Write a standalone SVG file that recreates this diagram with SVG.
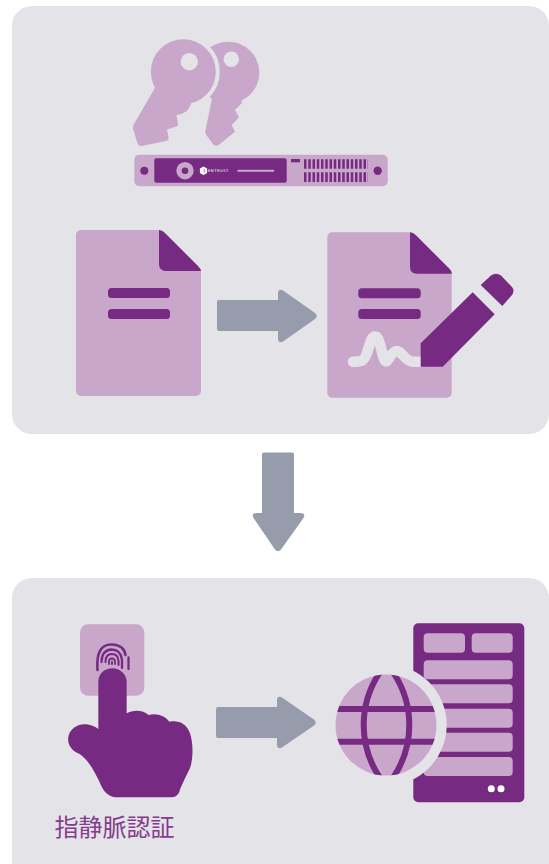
<svg xmlns="http://www.w3.org/2000/svg" width="549" height="864" viewBox="0 0 549 864">
<style>
.bg{fill:#e4e3e8}.lt{fill:#c9a7cb}.dk{fill:#772a81}.ar{fill:#969cab}
.cjk{font-family:"Noto Sans CJK JP","Noto Sans",sans-serif;font-size:24px;fill:#843c8d}
.brand{font-family:"DejaVu Sans",sans-serif;font-size:3.800px;letter-spacing:.45px;fill:#fff}
</style>
<defs>
<clipPath id="globeClip"><circle cx="386" cy="725" r="50.500"/></clipPath>
</defs>
<rect width="549" height="864" fill="#fff"/>
<g id="panel-top"><rect class="bg" x="12" y="6" width="537" height="428" rx="20"/></g>
<g id="panel-bottom"><rect class="bg" x="12" y="578" width="537" height="306" rx="20"/></g>
<g id="keys">
<circle class="lt" cx="228.300" cy="72.700" r="31"/>
<path class="lt" d="M215 84L205.300 131Q205 133 206 134.500L213.500 144.700Q216 147 219 144.700L235 131.700 231.700 125 239 117.300 235 110 241.700 103.300V90z"/>
<circle class="lt" cx="183.300" cy="71.700" r="32.500" stroke="#e4e3e8" stroke-width="8" paint-order="stroke"/>
<path class="lt" d="M156 86l-22 38q-1.500 2-1 4.500l4.500 15q1 3 4.500 2.500l24-5q3-.8 2.500-4l-1.500-7.500 9.500-3q1.500-.5 1.500-2l-1.500-9.500q6-1 9.500-3.500 4-3.500 5.500-9.500l-10-30z"/>
<circle class="bg" cx="189.300" cy="61.700" r="8.700"/>
<circle class="bg" cx="231.300" cy="59.300" r="7.700"/>
</g>
<g id="hsm">
<rect class="lt" x="134.300" y="154.700" width="253.400" height="31.600" rx="5"/>
<rect class="dk" x="154.300" y="158.300" width="132.400" height="24.400" rx="2"/>
<circle class="dk" cx="144.300" cy="170.700" r="4"/>
<circle class="dk" cx="377.700" cy="170.700" r="4.200"/>
<circle class="lt" cx="185" cy="170.700" r="8.700"/>
<circle class="dk" cx="185" cy="170.700" r="3.300"/>
<path fill="#fff" d="M203.500 166.500l3.600 2v4.400l-3.600 2-3.600-2v-4.400z"/>
<path class="lt" d="M203.500 168.500l1.800 1v2.400l-1.800 1z"/>
<text class="brand" x="208" y="172.200">ENTRUST</text>
<rect x="237.300" y="169.700" width="37" height="2" rx="1" class="lt"/>
<rect class="dk" x="291" y="159" width="9" height="3.300"/>
<path fill="none" stroke="#772a81" stroke-width="9.500" stroke-dasharray="2.500 1.750" d="M304 164H368"/>
<path fill="none" stroke="#772a81" stroke-width="9.700" stroke-dasharray="2.500 1.750" d="M304 177.100H368"/>
</g>
<g id="doc-unsigned">
<path class="lt" d="M81 230H159L201 271V391a5 5 0 0 1-5 5H81a5 5 0 0 1-5-5V235a5 5 0 0 1 5-5z"/>
<path class="dk" d="M159 230q3 0 6 3l33 33q3 3 3 5H166q-7 0-7-7z"/>
<rect class="dk" x="108" y="288" width="62" height="10" rx="3.500"/>
<rect class="dk" x="108" y="309" width="62" height="10" rx="3.500"/>
</g>
<g id="doc-signed">
<path class="lt" d="M332.300 232.300H410L451.700 273.700V392.700a5 5 0 0 1-5 5H332.300a5 5 0 0 1-5-5V237.300a5 5 0 0 1 5-5z"/>
<path class="dk" d="M410 232.300q3 0 6 3l33 33q3 3 3 5.400H417q-7 0-7-7z"/>
<rect class="dk" x="358.300" y="288.300" width="62.400" height="10" rx="3.500"/>
<rect class="dk" x="358.300" y="309" width="62.400" height="10" rx="3.500"/>
<path fill="none" stroke="#e4e3e8" stroke-width="10.500" stroke-linecap="round" stroke-linejoin="round" d="M353 361.700C362 361.700 364 361 367 353 370 344 371 336.500 375 336.500 379 336.500 380 345 382 352 384 360 385 362 387 361 390 358 392 351 397 351 402 351 405 361.700 413 361.700H421"/>
<path class="dk" d="M420.700 343.300L472.700 292.300 494.700 314.300 442.700 366.700H420.700z"/>
<path class="dk" d="M480.700 285L491 275.500q5-3.500 10 0L512 287q3 3.500 0 8L502.300 306z"/>
</g>
<g id="connectors">
<path class="ar" d="M219 300H278V293Q278.500 288 283 290.500L315 313Q318.500 316 315 319L283 341.500Q278.500 344 278 339V331H219Q217 331 217 329V302Q217 300 219 300Z"/>
<path class="ar" d="M264 452.500H292Q294 452.500 294 454.500V513H300.500Q306 513.500 303.500 518L281 549.500Q278 553 275 549.500L253.500 518Q251 513.500 256.500 513H262V454.500Q262 452.500 264 452.500Z"/>
<path class="ar" d="M218 707H277V700Q277.500 695 282 697.500L314 719.500Q317.500 722.500 314 725.500L282 747.500Q277.500 750 277 745V738H218Q216 738 216 736V709Q216 707 218 707Z"/>
</g>
<g id="fingerprint">
<rect class="lt" x="80" y="624.300" width="64.300" height="71.400" rx="8"/>
<g fill="none" stroke="#772a81" stroke-linecap="round">
<path stroke-width="2.600" d="M97.500 670Q95.500 644 112 644.500 124 645 125.500 655"/>
<path stroke-width="2.300" d="M128.500 657.500V669"/>
<path stroke-width="2.300" d="M101.500 662Q102 649.500 112 649.500 121 650 122 660V668"/>
<path stroke-width="2.100" d="M105.500 662Q105.500 654 112 654 118 654 118.500 661V665"/>
<path stroke-width="1.800" d="M109 664V661.500Q109 658.500 112 658.500 114.500 658.500 115 661.500V664"/>
<path stroke-width="2" d="M112 662V664"/>
</g>
<path class="dk" transform="translate(50 615) scale(.33333)" d="M145 342V200C145 175 165 160 187 160C210 160 230 178 230 200V295C250 283 280 285 296 300C320 293 345 302 358 320C385 315 410 325 420 355C430 385 430 430 420 460C405 490 395 510 388 530C383 542 375 547 360 547H205C180 547 165 535 155 515C135 470 115 435 90 418C60 405 52 385 55 365C60 340 85 325 110 328C125 330 135 335 145 342Z"/>
<text class="cjk" x="54.500" y="836">指静脈認証</text>
</g>
<g id="server">
<rect class="dk" x="413.300" y="623.300" width="111" height="179" rx="5"/>
<rect class="lt" x="423.700" y="633.300" width="41.300" height="19.400" rx="4"/>
<rect class="lt" x="471.700" y="633.300" width="41" height="19.400" rx="4"/>
<rect class="lt" x="423.700" y="660.300" width="89" height="19" rx="4"/>
<rect class="lt" x="423.700" y="684.300" width="89" height="19" rx="4"/>
<rect class="lt" x="423.700" y="708.700" width="89" height="19" rx="4"/>
<rect class="lt" x="423.700" y="732.700" width="89" height="19" rx="4"/>
<rect class="lt" x="423.700" y="757" width="89" height="19" rx="4"/>
<circle fill="#fff" cx="491.300" cy="788.700" r="3.500"/>
<circle fill="#fff" cx="501" cy="788.700" r="3.500"/>
</g>
<g id="globe">
<circle class="bg" cx="386" cy="725" r="60.700"/>
<circle class="lt" cx="386" cy="725" r="50.500"/>
<g clip-path="url(#globeClip)" fill="none" stroke="#772a81" stroke-width="6">
<path d="M330 709H442M330 741.700H442"/>
<path d="M380 672C368 690 363.700 708 363.700 725C363.700 742 368 760 380 778M393 672C405 690 409.300 708 409.300 725C409.300 742 405 760 393 778"/>
</g>
</g>
</svg>
